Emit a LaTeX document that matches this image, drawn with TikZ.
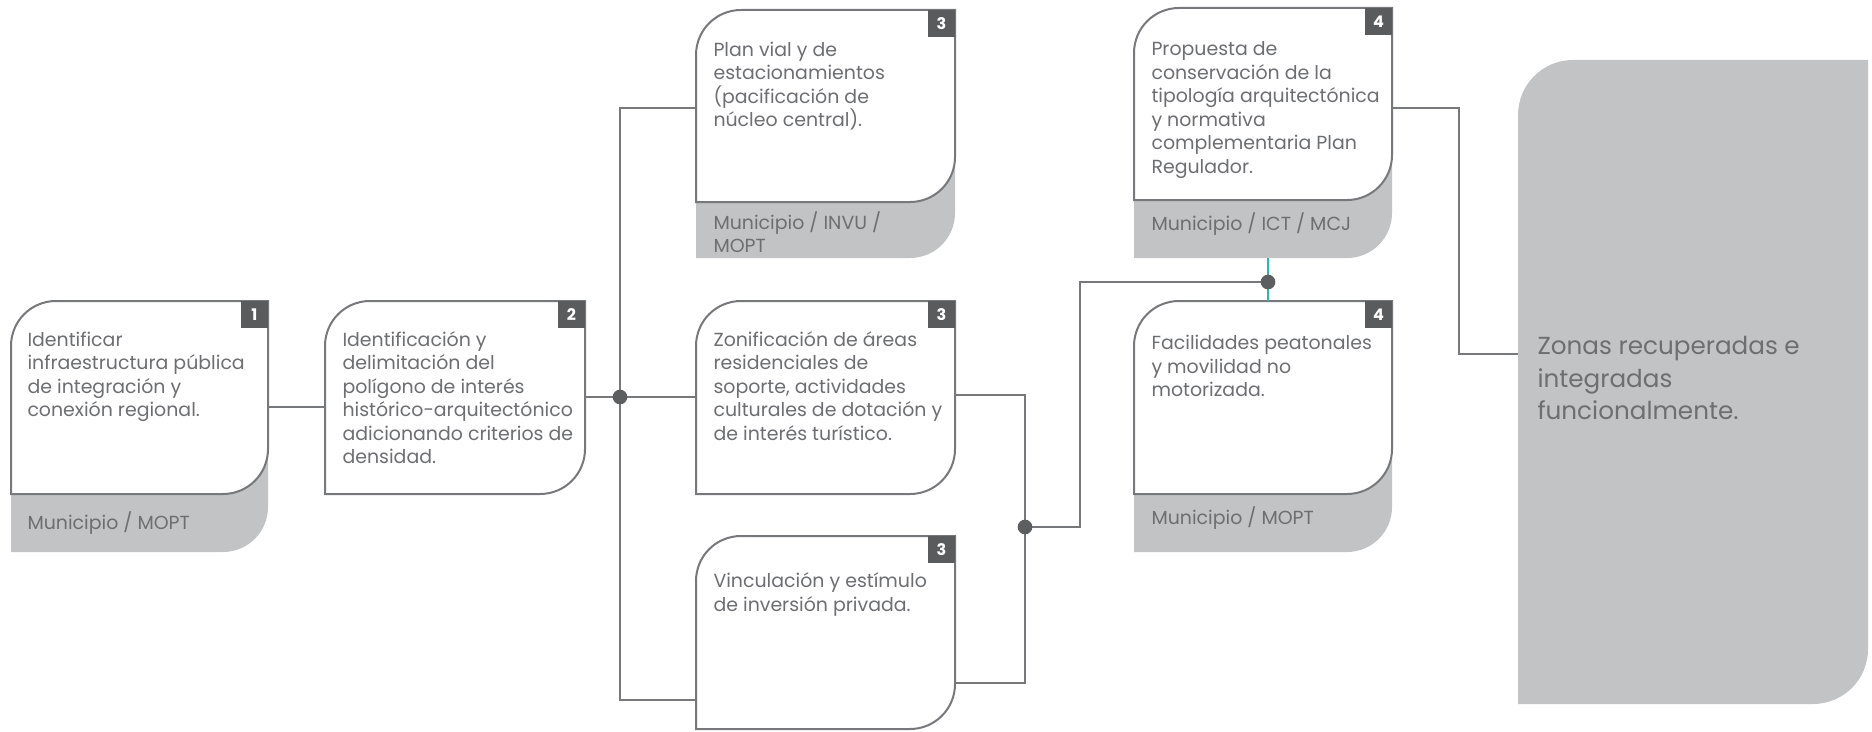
\documentclass[tikz,border=0pt]{standalone}
\usepackage{fontspec}
\setmainfont{Poppins}

\definecolor{txtgray}{HTML}{6D6E71}
\definecolor{linegray}{HTML}{77787B}
\definecolor{shadowgray}{HTML}{C2C3C5}
\definecolor{badgegray}{HTML}{5A5B5D}
\definecolor{dotgray}{HTML}{5D5E60}
\definecolor{tealline}{RGB}{45,180,180}

\tikzset{every picture/.style={line width=0.75pt}}
\tikzset{
  cardline/.style={draw=linegray, line width=1.5pt, fill=white},
  cardshadow/.style={fill=shadowgray},
  badge/.style={fill=badgegray, text=white, inner sep=0pt, minimum size=20.25pt,
    font=\fontsize{12}{12}\selectfont\bfseries},
  cardtext/.style={anchor=north west, inner sep=0pt, align=left, text=txtgray,
    font=\fontsize{14.2}{17.6}\selectfont},
  bigtext/.style={anchor=north west, inner sep=0pt, align=left, text=txtgray,
    font=\fontsize{18.5}{24.5}\selectfont},
  link/.style={draw=linegray, line width=1.1pt},
  teallink/.style={draw=tealline, line width=1.1pt},
  dot/.style={circle, fill=dotgray, inner sep=0pt, minimum size=11pt},
}

\begin{document}
\begin{tikzpicture}[x=0.75pt,y=0.75pt,yscale=-1,xscale=1]
\useasboundingbox (0,0) rectangle (1872,731);

%Shape: Result panel
\fill [cardshadow] (1518,704) -- (1518,115) .. controls (1518,84.6) and (1542.6,60) .. (1573,60) -- (1868,60) -- (1868,649) .. controls (1868,679.4) and (1843.4,704) .. (1813,704) -- cycle ;

%Shape: Card 1
\fill [cardshadow] (11,360) -- (268,360) -- (268,507) .. controls (268,531.9) and (247.9,552) .. (223,552) -- (11,552) -- cycle ;
\draw [cardline] (11,494) -- (11,346) .. controls (11,321.1) and (31.1,301) .. (56,301) -- (268,301) -- (268,449) .. controls (268,473.9) and (247.9,494) .. (223,494) -- cycle ;
%Shape: Card 2
\draw [cardline] (325,494) -- (325,346) .. controls (325,321.1) and (345.1,301) .. (370,301) -- (585,301) -- (585,449) .. controls (585,473.9) and (564.9,494) .. (540,494) -- cycle ;
%Shape: Card 3 top
\fill [cardshadow] (696,70) -- (955,70) -- (955,213) .. controls (955,237.9) and (934.9,258) .. (910,258) -- (696,258) -- cycle ;
\draw [cardline] (696,202) -- (696,55) .. controls (696,30.1) and (716.1,10) .. (741,10) -- (955,10) -- (955,157) .. controls (955,181.9) and (934.9,202) .. (910,202) -- cycle ;
%Shape: Card 3 middle
\draw [cardline] (696,494) -- (696,346) .. controls (696,321.1) and (716.1,301) .. (741,301) -- (955,301) -- (955,449) .. controls (955,473.9) and (934.9,494) .. (910,494) -- cycle ;
%Shape: Card 3 bottom
\draw [cardline] (696,729) -- (696,581) .. controls (696,556.1) and (716.1,536) .. (741,536) -- (955,536) -- (955,684) .. controls (955,708.9) and (934.9,729) .. (910,729) -- cycle ;
%Shape: Card 4 top
\fill [cardshadow] (1134,70) -- (1392,70) -- (1392,213) .. controls (1392,237.9) and (1371.9,258) .. (1347,258) -- (1134,258) -- cycle ;
\draw [cardline] (1134,200) -- (1134,53) .. controls (1134,28.1) and (1154.1,8) .. (1179,8) -- (1392,8) -- (1392,155) .. controls (1392,179.9) and (1371.9,200) .. (1347,200) -- cycle ;
%Shape: Card 4 bottom
\fill [cardshadow] (1134,360) -- (1392,360) -- (1392,507) .. controls (1392,531.9) and (1371.9,552) .. (1347,552) -- (1134,552) -- cycle ;
\draw [cardline] (1134,494) -- (1134,346) .. controls (1134,321.1) and (1154.1,301) .. (1179,301) -- (1392,301) -- (1392,449) .. controls (1392,473.9) and (1371.9,494) .. (1347,494) -- cycle ;

% Badges
\node [badge] (n1) at (254.5,314.5) {1};
\node [badge] (n2) at (571.5,314.5) {2};
\node [badge] (n3a) at (941.5,23.5) {3};
\node [badge] (n3b) at (941.5,314.5) {3};
\node [badge] (n3c) at (941.5,549.5) {3};
\node [badge] (n4a) at (1378.5,21.5) {4};
\node [badge] (n4b) at (1378.5,314.5) {4};

% Text Node
\node [cardtext] (t1) at (27,329.5) {\strut Identificar\\infraestructura pública\\de integración y\\conexión regional.};
% Text Node
\node [cardtext] (a1) at (27,511) {\strut Municipio / MOPT};
% Text Node
\node [cardtext] (t2) at (342,329.5) {\strut Identificación y\\delimitación del\\polígono de interés\\histórico-arquitectónico\\adicionando criterios de\\densidad.};
% Text Node
\node [cardtext] (t3a) at (713,39.5) {\strut Plan vial y de\\estacionamientos\\(pacificación de\\núcleo central).};
% Text Node
\node [cardtext] (a3a) at (713,211) {\strut Municipio / INVU /\\MOPT};
% Text Node
\node [cardtext] (t3b) at (713,329.5) {\strut Zonificación de áreas\\residenciales de\\soporte, actividades\\culturales de dotación y\\de interés turístico.};
% Text Node
\node [cardtext] (t3c) at (713,571) {\strut Vinculación y estímulo\\de inversión privada.};
% Text Node
\node [cardtext] (t4a) at (1151,39) {\strut Propuesta de\\conservación de la\\tipología arquitectónica\\y normativa\\complementaria Plan\\Regulador.};
% Text Node
\node [cardtext] (a4a) at (1151,212) {\strut Municipio / ICT / MCJ};
% Text Node
\node [cardtext] (t4b) at (1151,333) {\strut Facilidades peatonales\\y movilidad no\\motorizada.};
% Text Node
\node [cardtext] (a4b) at (1151,506) {\strut Municipio / MOPT};
% Text Node
\node [bigtext] (res) at (1537,331) {\strut Zonas recuperadas e\\integradas\\funcionalmente.};

% Connection points
\coordinate (c1r) at (268,407);
\coordinate (c2l) at (325,407);
\coordinate (c2r) at (585,397);
\coordinate (c3al) at (696,108);
\coordinate (c3bl) at (696,397);
\coordinate (c3cl) at (696,700);
\coordinate (c3br) at (955,395);
\coordinate (c3cr) at (955,683);
\coordinate (c4ab) at (1268,258);
\coordinate (c4bt) at (1268,301);
\coordinate (c4ar) at (1392,108);
\coordinate (zl) at (1518,354);
\coordinate (j1) at (620,397);
\coordinate (j2) at (1025,527);
\coordinate (j3) at (1268,282);

%Straight Lines
\draw [link] (c1r) -- (c2l) ;
\draw [link] (c2r) -- (j1) -- (c3bl) ;
\draw [link] (c3al) -| (j1) |- (c3cl) ;
\draw [link] (c3br) -| (j2) ;
\draw [link] (c3cr) -| (j2) ;
\draw [link] (j2) -- ++(55,0) |- (j3) ;
\draw [teallink] (c4ab) -- (c4bt) ;
\draw [link] (c4ar) -- ++(67,0) |- (zl) ;

% Junction dots
\node [dot] (d1) at (j1) {};
\node [dot] (d2) at (j2) {};
\node [dot] (d3) at (j3) {};

\end{tikzpicture}
\end{document}
